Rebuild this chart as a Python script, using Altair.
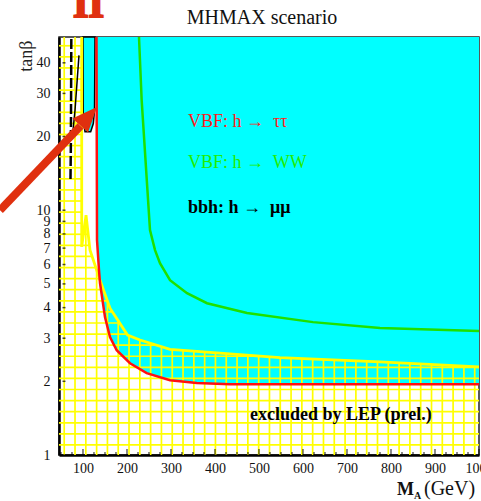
import altair as alt
import numpy as np
import pandas as pd

# ---------------- axes ----------------
X_MIN, X_MAX = 45.5, 1000.0
Y_MIN, Y_MAX = 1.0, 51.0
x_major = [100, 200, 300, 400, 500, 600, 700, 800, 900, 1000]
x_minor = [v for v in range(50, 1001, 25) if v % 100 != 0]
y_major = [1, 2, 3, 4, 5, 6, 7, 8, 9, 10, 20, 30, 40]

# ---------------- contours ----------------
# VBF h->tautau (red): cyan region lies above it
red_ma = [130.7, 131.9, 136.4, 138.7, 150.0, 161.4, 176.6, 206.9, 244.8, 297.8, 358.5, 434.0, 1000.0]
red_tb = [51.0, 7.54, 5.69, 5.04, 3.66, 3.03, 2.68, 2.37, 2.16, 2.02, 1.97, 1.944, 1.944]

# VBF h->WW (green)
green_ma = [227.3, 233.4, 252.3, 263.7, 275.0, 297.8, 336.4, 381.9, 472.8, 622.7, 775.0, 1000.0]
green_tb = [51.0, 28.1, 8.29, 6.87, 6.08, 5.18, 4.58, 4.17, 3.80, 3.49, 3.30, 3.21]

# LEP excluded region (yellow hatched) upper boundary
lep_ma = [45.5, 97.1, 97.1, 106.9, 116.0, 138.7, 161.4, 201.2, 229.6, 297.8, 547.8, 775.0, 1000.0]
lep_tb = [51.0, 51.0, 7.08, 9.54, 6.87, 5.18, 3.98, 3.09, 2.95, 2.70, 2.50, 2.40, 2.29]

# bbh h->mumu (black) contours
bbh_ma = [100.0, 100.7, 104.6, 117.5, 123.5, 126.2, 127.3]
bbh_tb = [51.0, 23.3, 20.9, 20.9, 22.6, 25.6, 51.0]
bbh2_ma = [73.5, 73.0, 72.4, 71.6]
bbh2_tb = [50.0, 30.0, 18.0, 13.3]
bbh3_ma = [90.9, 81.9, 76.0]
bbh3_tb = [42.9, 25.6, 20.0]

# annotations
labels = [
    {"ma": 338.7, "tb": 22.9, "text": "VBF: h \u2192\u00a0 \u03c4\u03c4", "color": "#ff1a1a", "weight": "normal"},
    {"ma": 338.7, "tb": 15.6, "text": "VBF: h \u2192\u00a0 WW", "color": "#22ee00", "weight": "normal"},
    {"ma": 338.7, "tb": 10.2, "text": "bbh: h \u2192\u00a0 \u03bc\u03bc", "color": "#000000", "weight": "bold"},
    {"ma": 479.6, "tb": 1.456, "text": "excluded by LEP (prel.)", "color": "#000000", "weight": "bold"},
]

# arrow (data coords)
arrow_start = (-88.6, 10.0)
arrow_end = (94.4, 22.1)
arrow_head = (112.8, 24.2)

# hatch pattern spacing
HATCH_X0, HATCH_DX = 57.35, 24.55
HATCH_LOG0, HATCH_DLOG = 0.041, 0.0453

RED = "#ff1010"
GREEN = "#1fe000"
CYAN = "#00ffff"
YELLOW = "#ffff00"
ARROW = "#e0300f"
FONT = "Liberation Serif"

# ---------------- data frames ----------------
red_df = pd.DataFrame({"ma": red_ma, "tb": red_tb, "top": Y_MAX, "i": range(len(red_ma))})
green_df = pd.DataFrame({"ma": green_ma, "tb": green_tb, "i": range(len(green_ma))})
lep_df = pd.DataFrame({"ma": lep_ma[1:], "tb": lep_tb[1:], "i": range(len(lep_ma) - 1)})
bbh_df = pd.DataFrame({"ma": bbh_ma, "tb": bbh_tb, "top": Y_MAX})
bbh2_df = pd.DataFrame({"ma": bbh2_ma, "tb": bbh2_tb, "i": range(len(bbh2_ma))})
bbh3_df = pd.DataFrame({"ma": bbh3_ma, "tb": bbh3_tb, "i": range(len(bbh3_ma))})
lab_df = pd.DataFrame(labels)

lep_log = np.log10(lep_tb)


def lep_upper(x):
    return 10 ** np.interp(x, lep_ma, lep_log)


segs = []
# vertical hatch lines
k = 0
while HATCH_X0 + k * HATCH_DX < X_MAX:
    xv = HATCH_X0 + k * HATCH_DX
    segs.append({"ma": xv, "tb": Y_MIN, "ma2": xv, "tb2": float(lep_upper(xv))})
    k += 1
# horizontal hatch lines
xs = np.linspace(X_MIN, X_MAX, 6000)
us = lep_upper(xs)
j = 0
while HATCH_LOG0 + j * HATCH_DLOG < np.log10(Y_MAX):
    yv = 10 ** (HATCH_LOG0 + j * HATCH_DLOG)
    m = us >= yv
    start = None
    for n in range(len(xs)):
        if m[n] and start is None:
            start = n
        if (not m[n] or n == len(xs) - 1) and start is not None:
            end = n if m[n] else n - 1
            if end > start:
                segs.append({"ma": xs[start], "tb": yv, "ma2": xs[end], "tb2": yv})
            start = None
    j += 1
hatch_df = pd.DataFrame(segs)

arrow_df = pd.DataFrame([{"ma": arrow_start[0], "tb": arrow_start[1], "ma2": arrow_end[0], "tb2": arrow_end[1]}])
head_df = pd.DataFrame([{"ma": arrow_head[0], "tb": arrow_head[1]}])
xmaj_df = pd.DataFrame({"ma": x_major})
xmin_df = pd.DataFrame({"ma": x_minor})
ymaj_df = pd.DataFrame({"tb": y_major})

# ---------------- encodings ----------------
xscale = alt.Scale(domain=[X_MIN, X_MAX], nice=False, zero=False)
yscale = alt.Scale(type="log", domain=[Y_MIN, Y_MAX], nice=False)
x_axis = alt.Axis(
    values=x_major, format="d", ticks=False, grid=False, title="",
    labelFont=FONT, labelFontSize=14, labelColor="#111", labelPadding=6,
    labelFlush=False, labelOverlap=False, domainColor="#000", domainWidth=2.5)
y_axis = alt.Axis(
    values=y_major, format="d", ticks=False, grid=False, title="tan\u03b2",
    labelFont=FONT, labelFontSize=14, labelColor="#111", labelPadding=9,
    labelFlush=False, labelOverlap=False, domainColor="#000", domainWidth=2.5,
    titleFont=FONT, titleFontSize=18, titleFontWeight="normal", titleColor="#222",
    titleAngle=270, titleAlign="right", titleBaseline="alphabetic", titleX=-28, titleY=3)
X = alt.X("ma:Q", scale=xscale, axis=x_axis)
Y = alt.Y("tb:Q", scale=yscale, axis=y_axis)
Y_AREA = alt.Y("tb:Q", scale=yscale, axis=y_axis, stack=None)
Y2_AREA = alt.Y2("top:Q")

cyan = alt.Chart(red_df).mark_area(color=CYAN, opacity=1, interpolate="linear").encode(
    x=X, y=Y_AREA, y2=Y2_AREA)
bbh_area = alt.Chart(bbh_df).mark_area(color=CYAN, opacity=1, stroke="#000", strokeWidth=1.5).encode(
    x=X, y=Y_AREA, y2=Y2_AREA)
hatch = alt.Chart(hatch_df).mark_rule(color=YELLOW, strokeWidth=1.7).encode(
    x=X, y=Y, x2="ma2:Q", y2="tb2:Q")
lep_line = alt.Chart(lep_df).mark_line(color=YELLOW, strokeWidth=2.8).encode(x=X, y=Y, order="i:Q")
green_line = alt.Chart(green_df).mark_line(color=GREEN, strokeWidth=2.5).encode(x=X, y=Y, order="i:Q")
red_line = alt.Chart(red_df).mark_line(color=RED, strokeWidth=2.5).encode(x=X, y=Y, order="i:Q")
bbh2 = alt.Chart(bbh2_df).mark_line(color="#000", strokeWidth=2.5, strokeDash=[10, 3]).encode(
    x=X, y=Y, order="i:Q")
bbh3 = alt.Chart(bbh3_df).mark_line(color="#000", strokeWidth=1.5).encode(x=X, y=Y, order="i:Q")

xt_major = alt.Chart(xmaj_df).mark_tick(orient="vertical", size=6, thickness=1.3, color="#000").encode(
    x=X, y=alt.value(415))
xt_minor = alt.Chart(xmin_df).mark_tick(orient="vertical", size=3, thickness=1.3, color="#000").encode(
    x=X, y=alt.value(416.5))
yt_major = alt.Chart(ymaj_df).mark_tick(orient="horizontal", size=3, thickness=1.5, color="#000").encode(
    y=Y, x=alt.value(5))

texts = []
for w in ["normal", "bold"]:
    sub = lab_df[lab_df["weight"] == w]
    texts.append(alt.Chart(sub).mark_text(
        font=FONT, fontSize=18, fontWeight=w, align="left", baseline="middle").encode(
        x=X, y=Y, text="text:N", color=alt.Color("color:N", scale=None)))

arrow = alt.Chart(arrow_df).mark_rule(color=ARROW, strokeWidth=8, strokeCap="butt").encode(
    x=X, y=Y, x2="ma2:Q", y2="tb2:Q")
head = alt.Chart(head_df).mark_point(
    shape="M0,-1L0.84,1L-0.84,1Z", filled=True, size=625, angle=42, color=ARROW, opacity=1).encode(
    x=X, y=Y)

one = pd.DataFrame({"a": [0]})
title_txt = alt.Chart(one).mark_text(font=FONT, fontSize=20, align="center",
                                     baseline="alphabetic", color="#111", text="MHMAX scenario").encode(
    x=alt.value(203), y=alt.value(-13))
xt_M = alt.Chart(one).mark_text(font=FONT, fontSize=18, fontWeight="bold", align="left",
                                baseline="alphabetic", color="#111", text="M").encode(
    x=alt.value(338), y=alt.value(458))
xt_A = alt.Chart(one).mark_text(font=FONT, fontSize=10, fontWeight="bold", align="left",
                                baseline="alphabetic", color="#111", text="A").encode(
    x=alt.value(355), y=alt.value(462))
xt_G = alt.Chart(one).mark_text(font=FONT, fontSize=20, align="left",
                                baseline="alphabetic", color="#111", text="(GeV)").encode(
    x=alt.value(365), y=alt.value(458))
big_II = alt.Chart(one).mark_text(font=FONT, fontSize=40, fontWeight="bold", align="left",
                                  baseline="alphabetic", color=ARROW, stroke=ARROW, strokeWidth=2,
                                  text="II").encode(x=alt.value(14), y=alt.value(-20))

chart = alt.layer(
    cyan, bbh_area, hatch, lep_line, green_line, red_line, bbh2, bbh3,
    xt_major, xt_minor, yt_major, *texts, arrow, head, title_txt, xt_M, xt_A, xt_G, big_II,
).properties(
    width=420, height=418,
    padding={"left": 59, "top": 37, "right": 2, "bottom": 46},
    autosize=alt.AutoSizeParams(type="none"),
    background="white",
).configure_view(stroke="#222", strokeWidth=1.5)

chart.save("out.html", embed_options={"renderer": "svg", "actions": False})
